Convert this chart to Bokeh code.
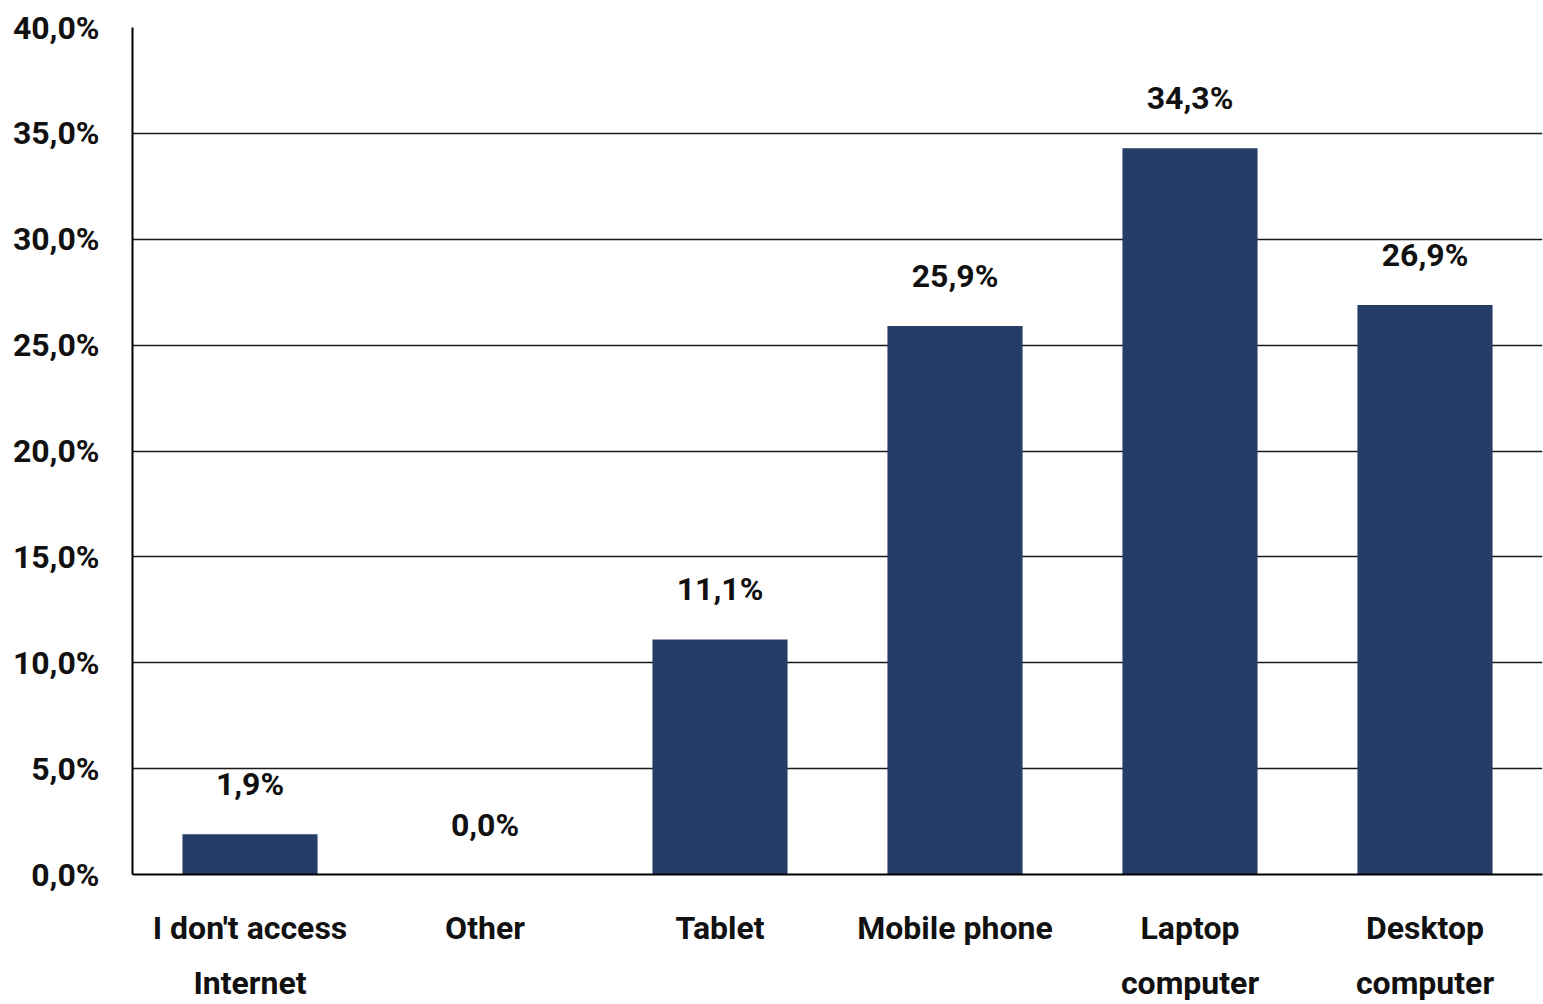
from bokeh.plotting import figure
from bokeh.models import ColumnDataSource, FixedTicker, CustomJSTickFormatter, Range1d
from bokeh.core.properties import value
from bokeh.embed import file_html
from bokeh.resources import INLINE

categories = ["I don't access\nInternet", "Other", "Tablet", "Mobile phone", "Laptop\ncomputer", "Desktop\ncomputer"]
values = [1.9, 0.0, 11.1, 25.9, 34.3, 26.9]
y_ticks = [0, 5, 10, 15, 20, 25, 30, 35, 40]

FONT = "Roboto"
FS = "32px"
labels = [("%.1f" % v).replace(".", ",") + "%" for v in values]
src = ColumnDataSource(dict(cat=categories, val=values, lab=labels))

p = figure(x_range=categories, y_range=Range1d(0, 40), width=1543, height=1004,
           output_backend="svg", toolbar_location=None,
           min_border_left=132, min_border_right=1, min_border_top=27, min_border_bottom=120)
p.outline_line_color = None
p.background_fill_color = "white"
p.border_fill_color = "white"

p.vbar(x="cat", top="val", width=0.575, source=src, fill_color="#263d68", line_color=None)
p.text(x="cat", y="val", text="lab", source=src, text_align="center", text_baseline="bottom",
       y_offset=-31, text_font=value(FONT), text_font_size=FS, text_font_style="bold",
       text_color="#111111")

p.xgrid.grid_line_color = None
p.ygrid.grid_line_color = "#1a1a1a"
p.ygrid.grid_line_width = 1.6
p.ygrid.ticker = FixedTicker(ticks=y_ticks)

p.yaxis.ticker = FixedTicker(ticks=y_ticks)
p.yaxis.formatter = CustomJSTickFormatter(code="return tick.toFixed(1).replace('.', ',') + '%';")
p.yaxis.major_tick_line_color = None
p.yaxis.minor_tick_line_color = None
p.yaxis.axis_line_color = "black"
p.yaxis.axis_line_width = 2
p.yaxis.major_label_standoff = 27
p.yaxis.major_label_text_font = FONT
p.yaxis.major_label_text_font_size = FS
p.yaxis.major_label_text_font_style = "bold"
p.yaxis.major_label_text_color = "#111111"

p.xaxis.major_tick_line_color = None
p.xaxis.minor_tick_line_color = None
p.xaxis.axis_line_color = "black"
p.xaxis.axis_line_width = 2
p.xaxis.major_label_standoff = 28
p.xaxis.major_label_text_font = FONT
p.xaxis.major_label_text_font_size = FS
p.xaxis.major_label_text_font_style = "bold"
p.xaxis.major_label_text_color = "#111111"
p.xaxis.major_label_text_line_height = 1.45

open("out.html", "w").write(file_html(p, INLINE))
